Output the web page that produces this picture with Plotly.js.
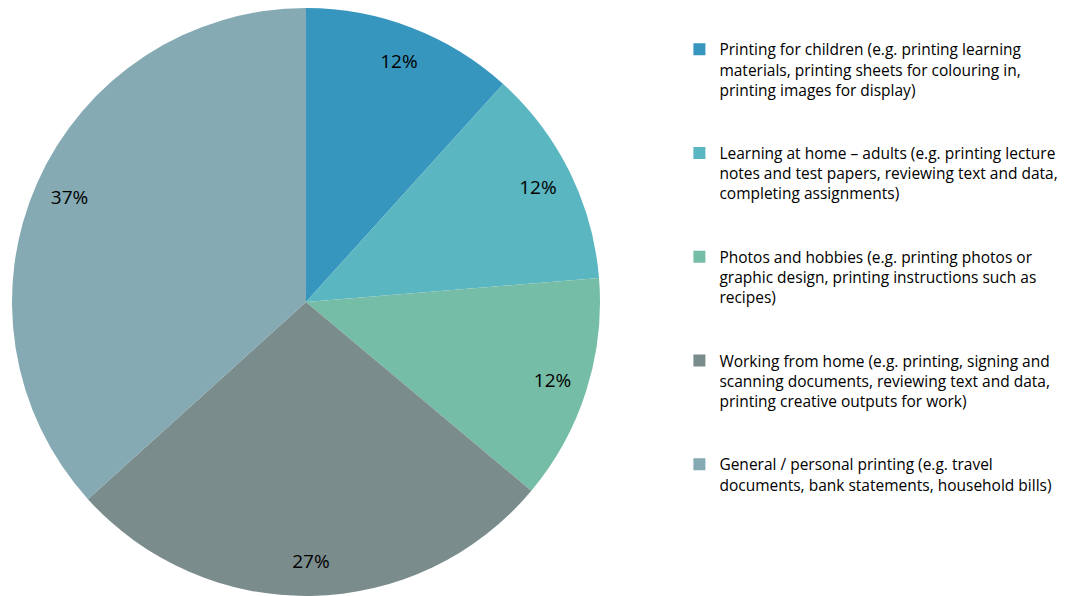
<!DOCTYPE html>
<html>
<head>
<meta charset="utf-8">
<script src="https://cdn.plot.ly/plotly-3.0.1.min.js"></script>
<style>html,body{margin:0;padding:0;background:#fff;}#chart{width:1075px;height:596px;}</style>
</head>
<body>
<div id="chart"></div>
<script>
const categories = [
  "Printing for children (e.g. printing learning<br>materials, printing sheets for colouring in,<br>printing images for display)<br> <br> ",
  "Learning at home – adults (e.g. printing lecture<br>notes and test papers, reviewing text and data,<br>completing assignments)<br> <br> ",
  "Photos and hobbies (e.g. printing photos or<br>graphic design, printing instructions such as<br>recipes)<br> <br> ",
  "Working from home (e.g. printing, signing and<br>scanning documents, reviewing text and data,<br>printing creative outputs for work)<br> <br> ",
  "General / personal printing (e.g. travel<br>documents, bank statements, household bills)"
];
const values = [11.7, 12.0, 12.4, 27.2, 36.7];
const colors = ["#3796BE", "#5AB6C0", "#76BDA8", "#7B8C8C", "#85AAB4"];

const pieDomain = {x: [12/1075, 600/1075], y: [0, 588/596]};
const fontFam = "'Open Sans', Lato, sans-serif";

// main pie: slices + legend
const slices = {
  type: "pie",
  labels: categories,
  values: values,
  sort: false,
  direction: "clockwise",
  rotation: 0,
  marker: {colors: colors, line: {width: 0}},
  textinfo: "none",
  hoverinfo: "label+percent",
  domain: pieDomain
};

// transparent ring overlay carrying the percentage labels near the rim
const labelsRing = {
  type: "pie",
  labels: categories,
  values: values,
  sort: false,
  direction: "clockwise",
  rotation: 0,
  hole: 0.76,
  showlegend: false,
  marker: {colors: values.map(() => "rgba(0,0,0,0)"), line: {width: 0}},
  texttemplate: "%{percent:.0%}",
  textposition: "inside",
  insidetextorientation: "horizontal",
  textfont: {family: fontFam, size: 19, color: "#000"},
  hoverinfo: "skip",
  domain: pieDomain
};

const layout = {
  width: 1075,
  height: 596,
  margin: {l: 0, r: 0, t: 0, b: 0},
  paper_bgcolor: "#fff",
  showlegend: true,
  legend: {
    x: 0.632, xanchor: "left",
    y: 0.945, yanchor: "top",
    valign: "top",
    font: {family: fontFam, size: 15.5, color: "#000"},
    itemwidth: 30,
    bgcolor: "rgba(0,0,0,0)"
  },
  uniformtext: {mode: false}
};

Plotly.newPlot("chart", [slices, labelsRing], layout, {displayModeBar: false, staticPlot: true});
</script>
</body>
</html>
